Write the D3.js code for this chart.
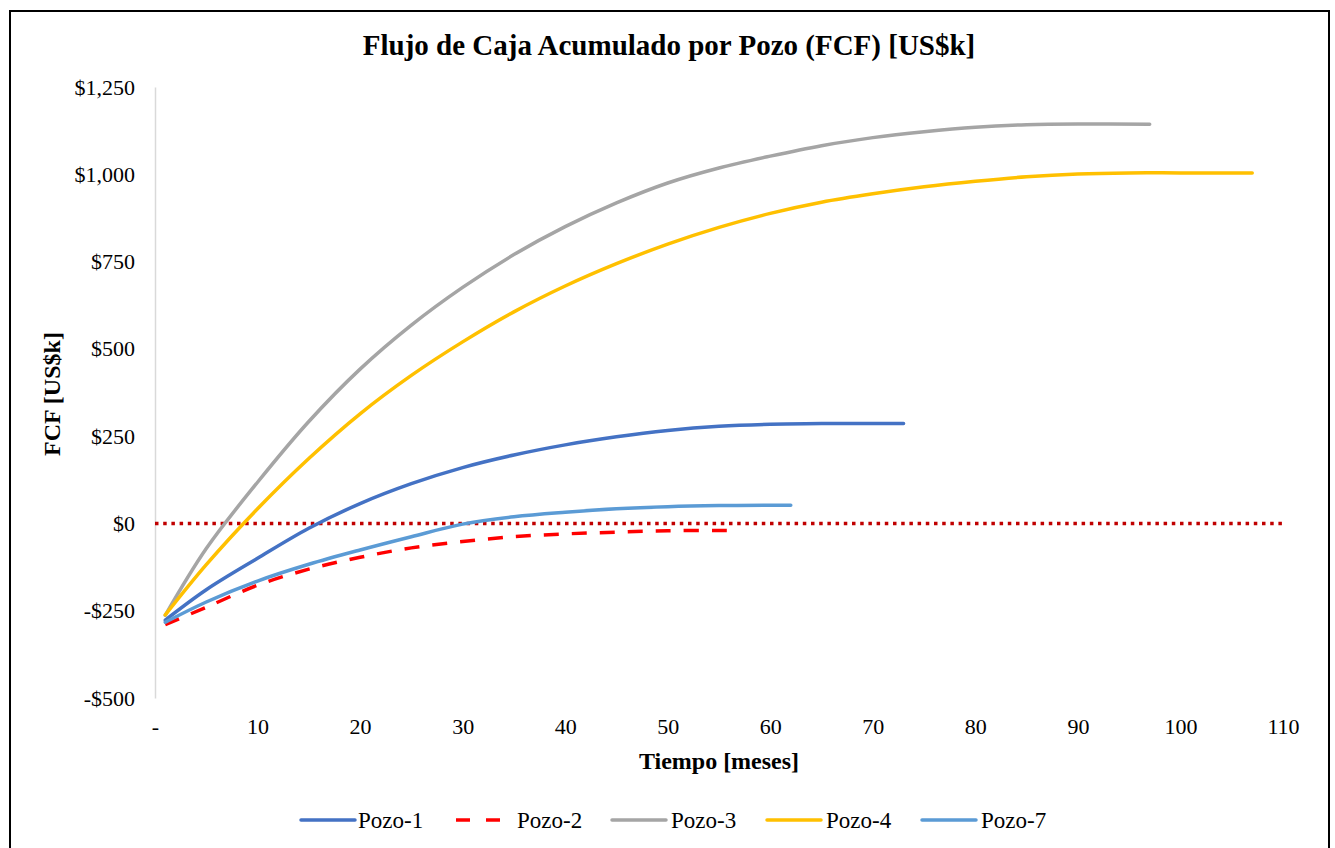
<!DOCTYPE html>
<html><head><meta charset="utf-8">
<script src="https://cdn.jsdelivr.net/npm/d3@7"></script>
<style>body{margin:0;background:#fff}svg{display:block}</style>
</head><body>
<script>
// ---- data ----
const xTicks = [0,10,20,30,40,50,60,70,80,90,100,110];
const yTicks = [-500,-250,0,250,500,750,1000,1250];
const seriesNames = ["Pozo-1","Pozo-2","Pozo-3","Pozo-4","Pozo-7"];
const pozo1Months = [1,5,10,15,20,25,30,35,40,45,50,55,60,65,70,73];
const pozo1Values = [-277,-190,-100,-14,57,114,160,196,225,248,266,278,284,286,286,286];
const pozo2Months = [1,5,10,15,20,25,30,35,40,45,50,55,57];
const pozo2Values = [-290,-240,-177,-131,-97,-70,-52,-38,-30,-25,-21,-20,-20];
const pozo3Months = [1,5,10,15,20,25,30,35,40,45,50,55,60,65,70,75,80,85,90,97];
const pozo3Values = [-263,-72,118,292,442,568,676,770,850,918,975,1018,1052,1082,1105,1122,1135,1142,1144,1143];
const pozo4Months = [1,5,10,15,20,25,30,35,40,45,50,55,60,65,70,75,80,85,90,95,100,107];
const pozo4Values = [-262,-118,42,186,314,424,520,606,680,744,800,848,888,920,944,964,980,993,1001,1004,1004,1004];
const pozo7Months = [1,5,10,15,20,25,30,35,40,45,50,55,60,62];
const pozo7Values = [-283,-225,-165,-117,-76,-38,-2,19,32,42,48,51,52,52];

const W = 1335, H = 848;
const svg = d3.select("body").append("svg").attr("width", W).attr("height", H);
svg.append("rect").attr("width", W).attr("height", H).attr("fill", "#fff");
svg.append("rect").attr("x", 10).attr("y", 11).attr("width", 1319).attr("height", 850)
  .attr("fill", "none").attr("stroke", "#000").attr("stroke-width", 2);

const x = d3.scaleLinear().domain([0,110]).range([155,1283]);
const y = d3.scaleLinear().domain([-500,1250]).range([698,87]);
const serif = "'Liberation Serif','Times New Roman',serif";

// title
svg.append("text").attr("x", 669).attr("y", 55).attr("text-anchor","middle")
  .attr("font-family", serif).attr("font-weight","bold").attr("font-size", 29)
  .text("Flujo de Caja Acumulado por Pozo (FCF) [US$k]");

// y axis
const yFmt = v => (v < 0 ? "-$" : "$") + d3.format(",")(Math.abs(v));
const yAxis = svg.append("g").attr("transform","translate(155,0)")
  .call(d3.axisLeft(y).tickValues(yTicks).tickFormat(yFmt).tickSize(0).tickPadding(20));
yAxis.select(".domain").attr("stroke","#D9D9D9").attr("stroke-width",1.5);
yAxis.selectAll("text").attr("font-family", serif).attr("font-size", 22).attr("fill","#000");

// x axis
const xAxis = svg.append("g").attr("transform","translate(0,713)")
  .call(d3.axisBottom(x).tickValues(xTicks).tickFormat(v => v === 0 ? "-" : v).tickSize(0).tickPadding(5));
xAxis.select(".domain").remove();
xAxis.selectAll("text").attr("font-family", serif).attr("font-size", 22).attr("fill","#000");

// axis titles
svg.append("text").attr("x", 719).attr("y", 769).attr("text-anchor","middle")
  .attr("font-family", serif).attr("font-weight","bold").attr("font-size", 24)
  .text("Tiempo [meses]");
svg.append("text").attr("transform","translate(60,394) rotate(-90)").attr("text-anchor","middle")
  .attr("font-family", serif).attr("font-weight","bold").attr("font-size", 24)
  .text("FCF [US$k]");

// zero reference line
svg.append("line").attr("x1", x(0)).attr("x2", x(110)).attr("y1", y(0)).attr("y2", y(0))
  .attr("stroke","#C00000").attr("stroke-width",3.5).attr("stroke-dasharray","3.5,4.7");

const series = [
  {name:"Pozo-1", m:pozo1Months, v:pozo1Values, color:"#4472C4", dash:null},
  {name:"Pozo-2", m:pozo2Months, v:pozo2Values, color:"#FF0000", dash:"15,13"},
  {name:"Pozo-3", m:pozo3Months, v:pozo3Values, color:"#A5A5A5", dash:null},
  {name:"Pozo-4", m:pozo4Months, v:pozo4Values, color:"#FFC000", dash:null},
  {name:"Pozo-7", m:pozo7Months, v:pozo7Values, color:"#5B9BD5", dash:null}
];
const line = d3.line().x(d => x(d[0])).y(d => y(d[1])).curve(d3.curveCatmullRom.alpha(0.5));
series.forEach(s => {
  svg.append("path").datum(s.m.map((mm,i) => [mm, s.v[i]]))
    .attr("d", line).attr("fill","none").attr("stroke", s.color).attr("stroke-width", 3.5)
    .attr("stroke-linecap", s.dash ? "butt" : "round")
    .attr("stroke-dasharray", s.dash);
});

// legend
const legendX = [301, 456, 612, 767, 922];
const legendTextX = [358, 517, 671, 826, 981];
const ly = 820;
series.forEach((s,i) => {
  if (s.dash) {
    svg.append("line").attr("x1", legendX[i]).attr("x2", legendX[i]+45).attr("y1", ly).attr("y2", ly)
      .attr("stroke", s.color).attr("stroke-width", 3.5).attr("stroke-dasharray","14,16");
  } else {
    svg.append("line").attr("x1", legendX[i]).attr("x2", legendX[i]+54).attr("y1", ly).attr("y2", ly)
      .attr("stroke", s.color).attr("stroke-width", 3.5).attr("stroke-linecap","round");
  }
  svg.append("text").attr("x", legendTextX[i]).attr("y", ly + 8)
    .attr("font-family", serif).attr("font-size", 23).attr("fill","#000").text(s.name);
});
</script>
</body></html>
